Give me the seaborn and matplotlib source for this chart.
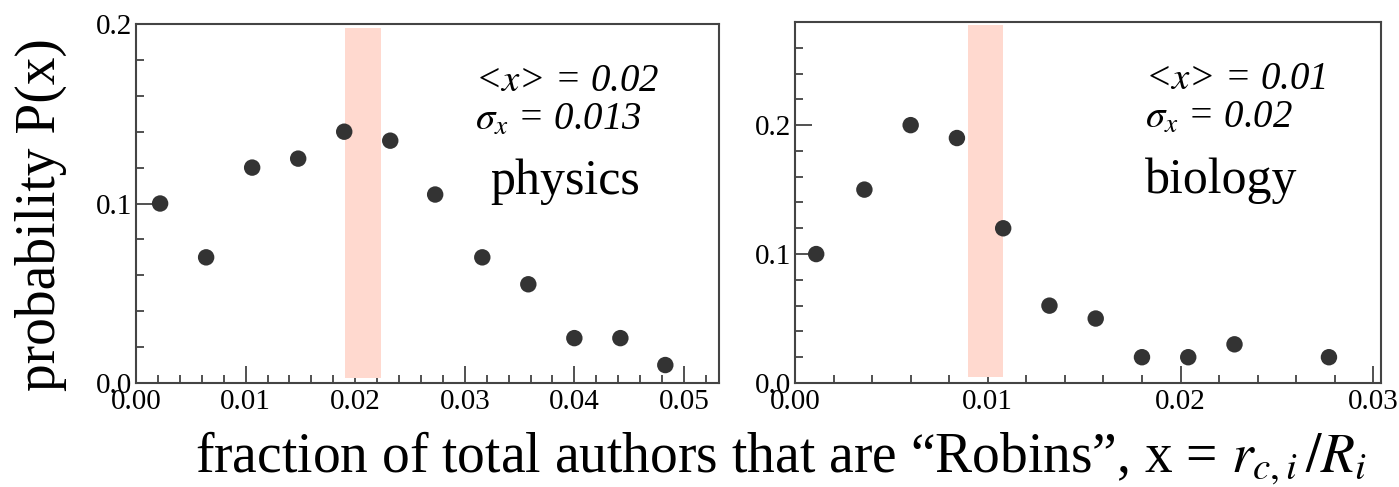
import numpy as np
import pandas as pd
import matplotlib
matplotlib.use("Agg")
import matplotlib.pyplot as plt
from matplotlib.ticker import MultipleLocator, FormatStrFormatter
import seaborn as sns

# Robin-author fraction distributions
phys_x = [0.0022, 0.0064, 0.0106, 0.0148, 0.0190, 0.0232, 0.0273, 0.0316, 0.0358, 0.0400, 0.0442, 0.0483]
phys_p = [0.100, 0.070, 0.120, 0.125, 0.140, 0.135, 0.105, 0.070, 0.055, 0.025, 0.025, 0.010]
bio_x = [0.0011, 0.0036, 0.0060, 0.0084, 0.0108, 0.0132, 0.0156, 0.0180, 0.0204, 0.0228, 0.0277]
bio_p = [0.100, 0.150, 0.200, 0.190, 0.120, 0.060, 0.050, 0.020, 0.020, 0.030, 0.020]

# mean bands and summary statistics
phys_band = (0.0191, 0.0224)
bio_band = (0.0090, 0.0108)
phys_stats = ("0.02", "0.013")
bio_stats = ("0.01", "0.02")
fields = ["physics", "biology"]

sns.set_theme(style="ticks")
plt.rcParams["font.family"] = ["Liberation Serif", "DejaVu Serif"]
plt.rcParams["mathtext.fontset"] = "stix"
plt.rcParams["text.color"] = "black"
plt.rcParams["axes.labelcolor"] = "black"

W, H = 1399, 487
fig = plt.figure(figsize=(W / 100, H / 100), dpi=100)
fig.patch.set_facecolor("white")

ax1 = fig.add_axes([136 / W, (H - 383) / H, (719 - 136) / W, (383 - 24) / H])
ax2 = fig.add_axes([795 / W, (H - 383) / H, (1381 - 795) / W, (383 - 22) / H])

dark = "#333333"
band_col = "#FFD9CF"

panels = [
    (ax1, phys_x, phys_p, phys_band, phys_stats, fields[0], (0, 0.0532), (0, 0.2), 0.198, 0.003, 0.581, 0.607),
    (ax2, bio_x, bio_p, bio_band, bio_stats, fields[1], (0, 0.0304), (0, 0.28), 0.2775, 0.0047, 0.597, 0.597),
]

for ax, xs, ps, band, stats, name, xl, yl, btop, bbot, sx, nx in panels:
    ax.fill_between(list(band), [bbot, bbot], [btop, btop], color=band_col, lw=0, zorder=1)
    df = pd.DataFrame({"x": xs, "p": ps})
    sns.scatterplot(data=df, x="x", y="p", ax=ax, color=dark, s=140,
                    edgecolor="none", zorder=3, legend=False)
    ax.set_xlim(*xl)
    ax.set_ylim(*yl)
    ax.set_xlabel("")
    ax.set_ylabel("")
    ax.xaxis.set_major_locator(MultipleLocator(0.01))
    ax.xaxis.set_minor_locator(MultipleLocator(0.002))
    ax.yaxis.set_major_locator(MultipleLocator(0.1))
    ax.yaxis.set_minor_locator(MultipleLocator(0.02))
    ax.xaxis.set_major_formatter(FormatStrFormatter("%.2f"))
    ax.yaxis.set_major_formatter(FormatStrFormatter("%.1f"))
    ax.tick_params(which="both", direction="in", top=False, right=False,
                   color=dark, width=1.2, labelsize=21, labelcolor="black")
    ax.tick_params(axis="x", which="both", pad=4)
    ax.tick_params(axis="y", which="both", pad=3)
    ax.tick_params(which="major", length=12)
    ax.tick_params(which="minor", length=6)
    for sp in ax.spines.values():
        sp.set_visible(True)
        sp.set_color("#444444")
        sp.set_linewidth(1.5)
    ax.text(sx, 0.84, r"<$x$> = " + stats[0], transform=ax.transAxes,
            fontsize=28, style="italic", ha="left", va="center")
    ax.text(sx, 0.732, r"$\sigma_x$ = " + stats[1], transform=ax.transAxes,
            fontsize=28, style="italic", ha="left", va="center")
    ax.text(nx, 0.56, name, transform=ax.transAxes,
            fontsize=36, ha="left", va="center")

fig.text(41 / W, (H - 215) / H, "probability P(x)", rotation=90,
         fontsize=40, ha="center", va="center")
fig.text(781 / W, (H - 458) / H,
         "fraction of total authors that are \u201cRobins\u201d, x = $r_{c,i}\\,/R_i$",
         fontsize=40, ha="center", va="center")

fig.savefig("out.png", dpi=100, facecolor="white")
